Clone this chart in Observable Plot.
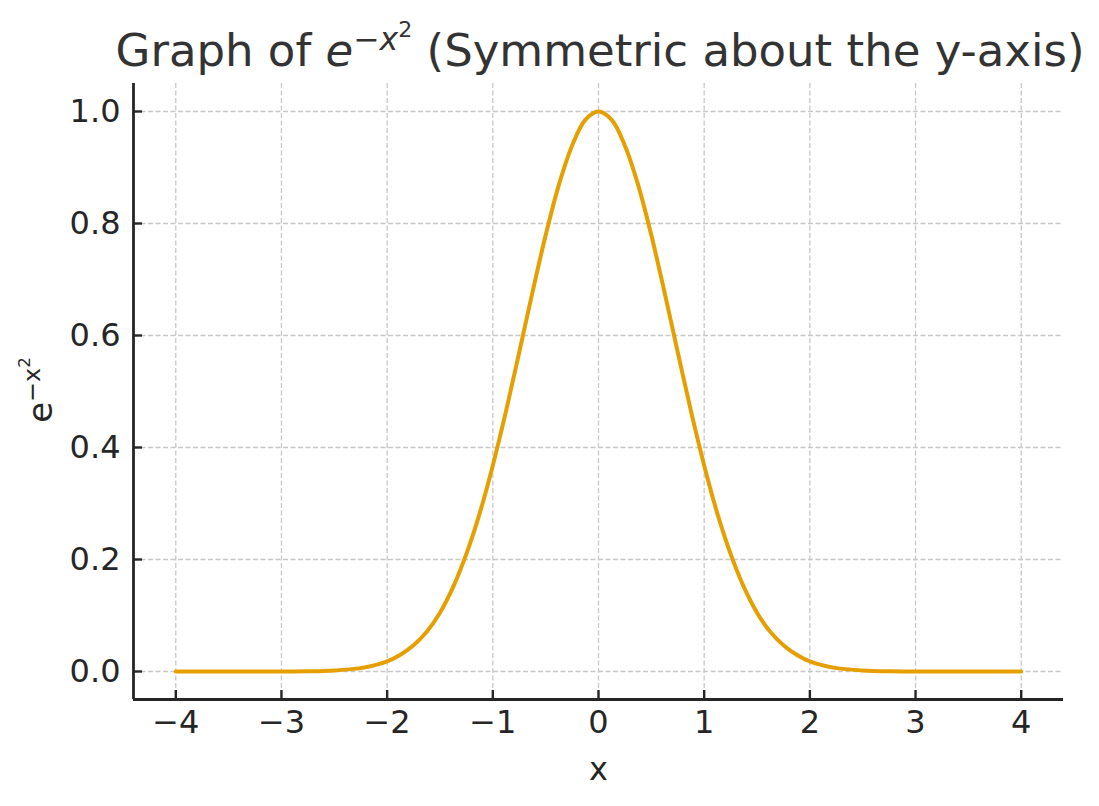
<!DOCTYPE html>
<html>
<head>
<meta charset="utf-8">
<script src="https://cdn.jsdelivr.net/npm/d3@7"></script>
<script src="https://cdn.jsdelivr.net/npm/@observablehq/plot@0.6"></script>
<style>
  body { margin: 0; background: #fff; }
  #wrap { position: relative; width: 1099px; height: 806px; font-family: "DejaVu Sans", sans-serif; }
  #title { position: absolute; left: 0; top: 28px; width: 1200px; text-align: center; font-size: 45px; line-height: 1; color: #333333; white-space: nowrap; }
  sup { font-size: 0.7em; line-height: 0; vertical-align: 0.5em; }
  sup sup { font-size: 0.7em; vertical-align: 0.6em; font-style: normal; }
  #ylab { position: absolute; left: 40px; top: 390px; transform: translate(-50%, -50%) rotate(-90deg); font-size: 34px; color: #262626; white-space: nowrap; line-height: 1; }
</style>
</head>
<body>
<div id="wrap">
  <div id="chart"></div>
  <div id="title">Graph of <i>e</i><sup><i>−x</i><sup>2</sup></sup> (Symmetric about the y-axis)</div>
  <div id="ylab">e<sup>−x<sup>2</sup></sup></div>
</div>
<script>
const xs = [-4, -3.75, -3.5, -3.25, -3, -2.75, -2.5, -2.25, -2, -1.875, -1.75, -1.625, -1.5, -1.375, -1.25, -1.125, -1, -0.875, -0.75, -0.625, -0.5, -0.375, -0.25, -0.125, 0,
            0.125, 0.25, 0.375, 0.5, 0.625, 0.75, 0.875, 1, 1.125, 1.25, 1.375, 1.5, 1.625, 1.75, 1.875, 2, 2.25, 2.5, 2.75, 3, 3.25, 3.5, 3.75, 4];
const ys = [0, 0, 0, 0, 0.0001, 0.0005, 0.002, 0.006, 0.018, 0.030, 0.047, 0.071, 0.105, 0.151, 0.210, 0.282, 0.368, 0.465, 0.570, 0.677, 0.779, 0.869, 0.939, 0.985, 1.0,
            0.985, 0.939, 0.869, 0.779, 0.677, 0.570, 0.465, 0.368, 0.282, 0.210, 0.151, 0.105, 0.071, 0.047, 0.030, 0.018, 0.006, 0.002, 0.0005, 0.0001, 0, 0, 0, 0];
const xTicks = [-4, -3, -2, -1, 0, 1, 2, 3, 4];
const yTicks = [0.0, 0.2, 0.4, 0.6, 0.8, 1.0];
const xDomain = [-4.4, 4.4];
const yDomain = [-0.05, 1.05];

const data = xs.map((x, i) => ({x, y: ys[i]}));
const fmtX = d => d < 0 ? "\u2212" + Math.abs(d) : String(d);
const fmtY = d => d.toFixed(1);
const blank = () => "";

const plot = Plot.plot({
  width: 1099,
  height: 806,
  marginLeft: 133,
  marginRight: 36,
  marginTop: 83,
  marginBottom: 107,
  style: { fontFamily: "DejaVu Sans, sans-serif", color: "#262626", background: "#fff" },
  x: { domain: xDomain },
  y: { domain: yDomain },
  marks: [
    Plot.gridX(xTicks, { stroke: "#c8c8c8", strokeOpacity: 1, strokeWidth: 1.3, strokeDasharray: "5,2.5" }),
    Plot.gridY(yTicks, { stroke: "#c8c8c8", strokeOpacity: 1, strokeWidth: 1.3, strokeDasharray: "5,2.5" }),
    Plot.line(data, { x: "x", y: "y", stroke: "#E69F00", strokeWidth: 4, curve: "catmull-rom" }),
    Plot.axisX(xTicks, { tickSize: 9, dy: -9, tickFormat: blank, label: null, stroke: "#262626", strokeWidth: 2.4 }),
    Plot.axisY(yTicks, { tickSize: 9, dx: 9, tickFormat: blank, label: null, stroke: "#262626", strokeWidth: 2.4 }),
    Plot.axisX(xTicks, { tickSize: 0, tickPadding: 11, tickFormat: fmtX, fontSize: 32, label: "x", labelAnchor: "center", labelArrow: "none", labelOffset: 80 }),
    Plot.axisY(yTicks, { tickSize: 0, tickPadding: 13, tickFormat: fmtY, fontSize: 32, label: null }),
    Plot.ruleX([xDomain[0]], { stroke: "#262626", strokeWidth: 2.8 }),
    Plot.ruleY([yDomain[0]], { stroke: "#262626", strokeWidth: 2.8 })
  ]
});
document.getElementById("chart").appendChild(plot);
</script>
</body>
</html>
